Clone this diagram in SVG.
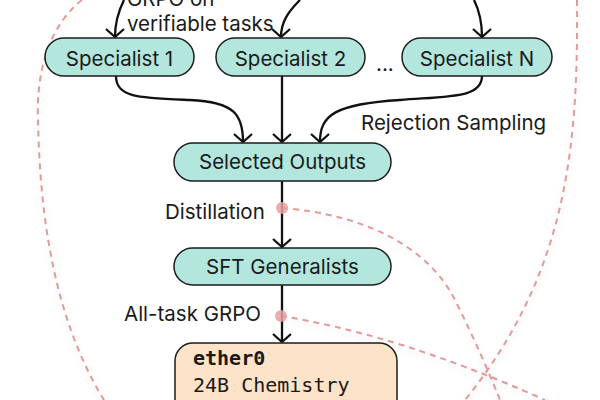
<svg xmlns="http://www.w3.org/2000/svg" width="600" height="400" viewBox="0 0 600 400">
<defs>
<style>
.node{fill:#b3e6dd;stroke:#1d1d1d;stroke-width:1.5}
.box{fill:#fde3c8;stroke:#1d1d1d;stroke-width:1.5}
.lbl{font-family:Inter,"Noto Sans",sans-serif;font-size:20.5px;fill:#1a1a1a}
.mid{text-anchor:middle}
.mono{font-family:"DejaVu Sans Mono","Liberation Mono",monospace;font-size:20px;fill:#1a1a1a}
.conn{fill:none;stroke:#111;stroke-width:2.3;marker-end:url(#arr)}
.dash{fill:none;stroke:#e09b9b;stroke-width:2;stroke-dasharray:6 5;filter:url(#sh)}
.dot{fill:#e8a1a3;fill-opacity:0.85}
</style>
<marker id="arr" viewBox="-11 -11 22 22" markerWidth="22" markerHeight="22" markerUnits="userSpaceOnUse" refX="0" refY="0" orient="auto">
<path d="M-8,-9 L0,0 L-8,9" fill="none" stroke="#111" stroke-width="2.3" stroke-linejoin="miter"/>
</marker>
<filter id="sh" x="-20%" y="-20%" width="140%" height="140%">
<feDropShadow dx="0" dy="3" stdDeviation="3" flood-color="#000" flood-opacity="0.12"/>
</filter>
</defs>

<g id="annotations">
<path class="dash" d="M82,0 C50,25 36,70 38,120 C40,220 55,320 104,400"/>
<path class="dash" d="M577,0 C578,140 570,270 465,400"/>
<path class="dash" d="M282,208 C370,215 430,250 455,300 C475,340 490,375 500,400"/>
<path class="dash" d="M281,316 Q400,335 545,400"/>
</g>

<g id="connectors">
<path class="conn" d="M124,0 C118,12 115,22 115,37"/>
<path class="conn" d="M300,0 C288,12 281,22 281,37"/>
<path class="conn" d="M474,0 C480,12 482,22 482,37"/>
<path class="conn" d="M116,76 C116,98 140,98 190,100 C235,102 243,115 243,142"/>
<path class="conn" d="M282,76 L282,142"/>
<path class="conn" d="M482,76 C482,98 450,96 400,100 C335,104 320,115 320,142"/>
<path class="conn" d="M282,181 L282,247"/>
<path class="conn" d="M282,285 L282,342"/>
</g>

<g id="dots">
<circle class="dot" cx="282" cy="208" r="6"/>
<circle class="dot" cx="281" cy="316" r="6"/>
</g>

<g id="labels">
<text class="lbl" x="127" y="6">GRPO on</text>
<text class="lbl" x="127" y="31">verifiable tasks</text>
<text class="lbl" x="376" y="71">...</text>
<text class="lbl" x="361" y="130">Rejection Sampling</text>
<text class="lbl" x="165" y="219">Distillation</text>
<text class="lbl" x="124" y="321">All-task GRPO</text>
</g>

<g id="specialist1">
<rect class="node" x="45" y="38" width="149" height="38" rx="19"/>
<text class="lbl mid" x="119.5" y="66">Specialist 1</text>
</g>
<g id="specialist2">
<rect class="node" x="216" y="38" width="149" height="38" rx="19"/>
<text class="lbl mid" x="290.5" y="66">Specialist 2</text>
</g>
<g id="specialistN">
<rect class="node" x="402" y="38" width="150" height="38" rx="19"/>
<text class="lbl mid" x="477" y="66">Specialist N</text>
</g>
<g id="selected">
<rect class="node" x="174" y="143" width="217" height="38" rx="19"/>
<text class="lbl mid" x="282.5" y="169">Selected Outputs</text>
</g>
<g id="sft">
<rect class="node" x="174" y="248" width="217" height="37" rx="18.5"/>
<text class="lbl mid" x="282.5" y="274">SFT Generalists</text>
</g>
<g id="ether0">
<rect class="box" x="175" y="343" width="222" height="90" rx="18"/>
<text class="mono" x="193" y="365" font-weight="bold">ether0</text>
<text class="mono" x="193" y="392">24B Chemistry</text>
</g>
</svg>
